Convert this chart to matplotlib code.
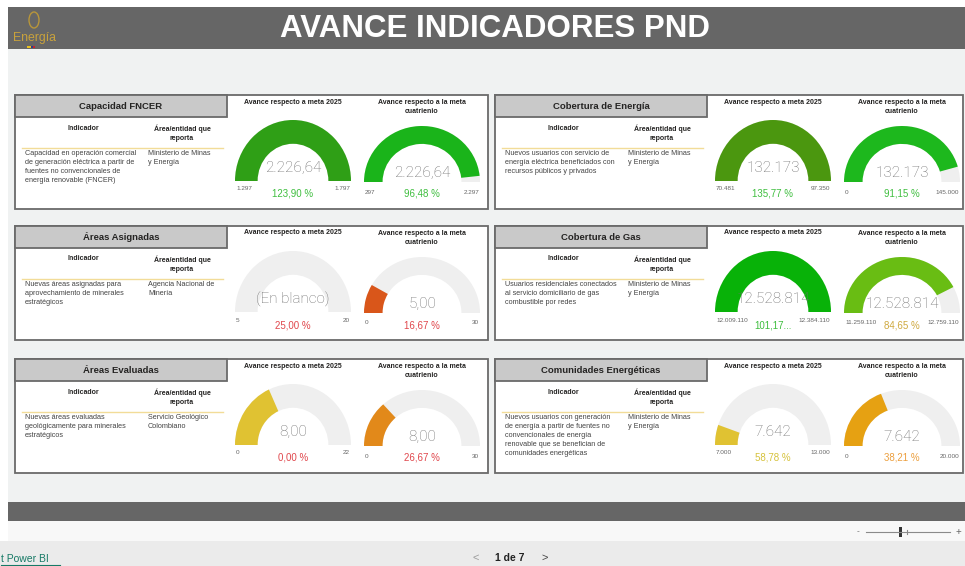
import matplotlib.pyplot as plt
from matplotlib.patches import Rectangle, Wedge, Ellipse

plt.rcParams['font.family'] = ['Liberation Sans', 'DejaVu Sans']

# datos de los indicadores
paneles = ["Capacidad FNCER", "Cobertura de Energía", "Áreas Asignadas",
           "Cobertura de Gas", "Áreas Evaluadas", "Comunidades Energéticas"]
indicadores = [
    "Capacidad en operación comercial\nde generación eléctrica a partir de\nfuentes no convencionales de\nenergía renovable (FNCER)",
    "Nuevos usuarios con servicio de\nenergía eléctrica beneficiados con\nrecursos públicos y privados",
    "Nuevas áreas asignadas para\naprovechamiento de minerales\nestratégicos",
    "Usuarios residenciales conectados\nal servicio domiciliario de gas\ncombustible por redes",
    "Nuevas áreas evaluadas\ngeológicamente para minerales\nestratégicos",
    "Nuevos usuarios con generación\nde energía a partir de fuentes no\nconvencionales de energía\nrenovable que se benefician de\ncomunidades energéticas",
]
entidades = ["Ministerio de Minas\ny Energía", "Ministerio de Minas\ny Energía",
             "Agencia Nacional de\nMinería", "Ministerio de Minas\ny Energía",
             "Servicio Geológico\nColombiano", "Ministerio de Minas\ny Energía"]

# meta 2025
valor_2025 = [2226.64, 132173, None, 12528814, 8, 7642]
min_2025 = [1297, 70481, 5, 12009110, 0, 7000]
max_2025 = [1797, 97350, 20, 12384110, 22, 13000]
pct_2025 = ["123,90 %", "135,77 %", "25,00 %", "101,17...", "0,00 %", "58,78 %"]
# meta cuatrienio
valor_cuat = [2226.64, 132173, 5, 12528814, 8, 7642]
min_cuat = [297, 0, 0, 11259110, 0, 0]
max_cuat = [2297, 145000, 30, 12759110, 30, 20000]
pct_cuat = ["96,48 %", "91,15 %", "16,67 %", "84,65 %", "26,67 %", "38,21 %"]
decimales = [2, 0, 2, 0, 2, 0]

col_2025 = ["#2f9f16", "#4b970f", None, "#08b208", "#e0c232", "#e0c232"]
col_cuat = ["#1ab41a", "#1db81d", "#d9561a", "#69bd13", "#e2891a", "#e6a112"]
VERDE, ROJO, AMARILLO, NARANJA, ORO = "#3fbe3f", "#e0474c", "#d6c23c", "#ec9f3e", "#cfa93f"
pctc_2025 = [VERDE, VERDE, ROJO, VERDE, ROJO, AMARILLO]
pctc_cuat = [VERDE, VERDE, ROJO, ORO, ROJO, NARANJA]

W, H = 965, 566
fig = plt.figure(figsize=(W / 100, H / 100), dpi=100)
ax = fig.add_axes([0, 0, 1, 1])
ax.set_xlim(0, W)
ax.set_ylim(H, 0)
ax.axis('off')

# capa de encima para los textos de los gauges
ov = fig.add_axes([0, 0, 1, 1], zorder=10)
ov.set_xlim(0, W)
ov.set_ylim(H, 0)
ov.axis('off')
ov.patch.set_alpha(0)


def fmt(v, d=0):
    s = f"{v:,.{d}f}"
    return s.replace(",", "_").replace(".", ",").replace("_", ".")


def rect(x0, y0, x1, y1, **kw):
    ax.add_patch(Rectangle((x0, y0), x1 - x0, y1 - y0, **kw))


# fondo general
rect(8, 7, W, 49, color="#666666", lw=0)
rect(8, 49, W, 502, color="#f0f2f2", lw=0)
rect(8, 502, W, 521, color="#666666", lw=0)
rect(8, 521, W, 541, color="#f8f8f8", lw=0)
rect(0, 541, W, H, color="#ebebeb", lw=0)

# titulo y logo
ax.text(495, 29, "AVANCE INDICADORES PND", color="white", fontsize=22.5, fontweight="bold",
        ha="center", va="center")
ax.add_patch(Ellipse((34, 20), 10, 16, fill=False, ec="#b8963a", lw=1))
ax.text(13, 38, "Energía", color="#c9a23c", fontsize=8.8, ha="left", va="center")
rect(27, 46, 31, 47.5, color="#e8c020", lw=0)
rect(31, 46, 33, 47.5, color="#2a3e8c", lw=0)
rect(33, 46, 35, 47.5, color="#c8202a", lw=0)

# pie de pagina
ax.plot([866, 950], [532, 532], color="#8a8a8a", lw=0.8)
rect(899, 527, 902, 537, color="#333333", lw=0)
ax.plot([907, 907], [530, 534], color="#8a8a8a", lw=0.8)
ax.text(858, 532, "-", fontsize=6, color="#666", ha="center", va="center")
ax.text(958, 532, "+", fontsize=7, color="#666", ha="center", va="center")
ax.text(476, 558, "<", fontsize=8, color="#9a9a9a", ha="center", va="center")
ax.text(510, 558, "1 de 7", fontsize=7.5, color="#222", fontweight="bold", ha="center", va="center")
ax.text(545, 558, ">", fontsize=8, color="#444", ha="center", va="center")
ax.text(1, 559, "t Power BI", fontsize=7.5, color="#177a66", ha="left", va="center")
ax.plot([1, 60], [565, 565], color="#177a66", lw=0.8)


def gauge(cx, base, rx, ry, ratio, vmin, vmax, val, color):
    gx = fig.add_axes([(cx - rx) / W, 1 - base / H, 2 * rx / W, ry / H])
    gx.set_xlim(-1, 1)
    gx.set_ylim(0, 1)
    gx.axis('off')
    gx.add_patch(Wedge((0, 0), 1, 0, 180, width=1 - ratio, color="#efefef", lw=0))
    if val is not None:
        frac = min(max((val - vmin) / (vmax - vmin), 0), 1)
        gx.add_patch(Wedge((0, 0), 1, 180 - 180 * frac, 180, width=1 - ratio, color=color, lw=0))


lefts = [15, 495]
rights = [488, 963]
tops = [95, 226, 359]
for i in range(6):
    L = lefts[i % 2]
    R = rights[i % 2]
    T = tops[i // 2]
    rect(L, T, R, T + 114, fc="white", ec="#6a6a6a", lw=1.3)
    rect(L, T, L + 212, T + 22, fc="#c9c9c9", ec="#6a6a6a", lw=1.3)
    ax.text(L + 106, T + 11.5, paneles[i], fontsize=6.8, fontweight="bold", color="#252423",
            ha="center", va="center")
    ax.text(L + 68, T + 33, "Indicador", fontsize=5, fontweight="bold", color="#252423",
            ha="center", va="center")
    ax.text(L + 167, T + 38, "Área/entidad que\nreporta", fontsize=5, fontweight="bold",
            color="#252423", ha="center", va="center", linespacing=1.45)
    ax.plot([L + 7, L + 208], [T + 53, T + 53], color="#f2dc98", lw=1)
    ax.text(L + 10, T + 55, indicadores[i], fontsize=5.2, color="#444444", ha="left", va="top",
            linespacing=1.4)
    ax.text(L + 133, T + 55, entidades[i], fontsize=5.2, color="#444444", ha="left", va="top",
            linespacing=1.4)

    # gauge meta 2025
    gx1 = L + 278
    ax.text(gx1, T + 7, "Avance respecto a meta 2025", fontsize=5, fontweight="bold",
            color="#252423", ha="center", va="center")
    gauge(gx1, T + 86, 58, 61, 0.61, min_2025[i], max_2025[i], valor_2025[i], col_2025[i])
    if valor_2025[i] is None:
        etiqueta = "(En blanco)"
    else:
        etiqueta = fmt(valor_2025[i], decimales[i])
    ov.text(gx1, T + 73, etiqueta, fontsize=11, color="#6e6e6e", ha="center", va="center",
            family=["Roboto", "DejaVu Sans"], fontweight="light")
    ov.text(gx1 - 57, T + 94, fmt(min_2025[i]), fontsize=4.6, color="#666666", ha="left", va="center")
    ov.text(gx1 + 57, T + 94, fmt(max_2025[i]), fontsize=4.6, color="#666666", ha="right", va="center")
    ov.text(gx1, T + 99, pct_2025[i], fontsize=7, color=pctc_2025[i], ha="center", va="center")

    # gauge cuatrienio
    gx2 = L + 407
    ax.text(gx2, T + 12, "Avance respecto a la meta\ncuatrienio", fontsize=5, fontweight="bold",
            color="#252423", ha="center", va="center", linespacing=1.45)
    gauge(gx2, T + 87, 58, 56, 0.68, min_cuat[i], max_cuat[i], valor_cuat[i], col_cuat[i])
    ov.text(gx2, T + 78, fmt(valor_cuat[i], decimales[i]), fontsize=11, color="#6e6e6e",
            ha="center", va="center", family=["Roboto", "DejaVu Sans"], fontweight="light")
    ov.text(gx2 - 57, T + 97, fmt(min_cuat[i]), fontsize=4.6, color="#666666", ha="left", va="center")
    ov.text(gx2 + 57, T + 97, fmt(max_cuat[i]), fontsize=4.6, color="#666666", ha="right", va="center")
    ov.text(gx2, T + 99, pct_cuat[i], fontsize=7, color=pctc_cuat[i], ha="center", va="center")

fig.savefig("out.png", dpi=100)
